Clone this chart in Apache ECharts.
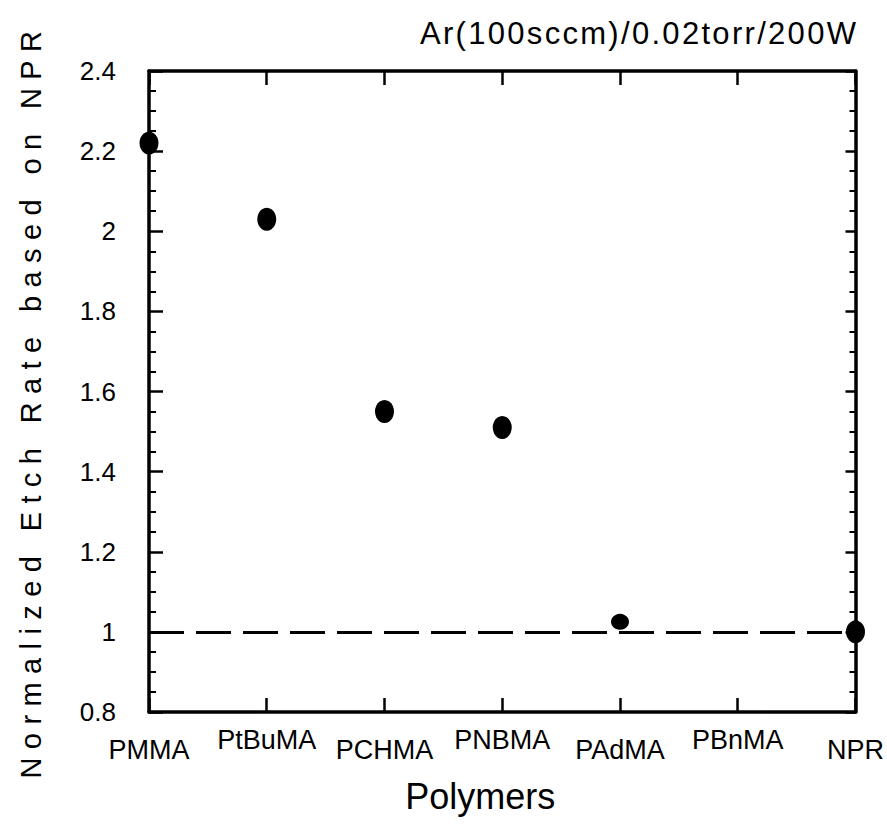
<!DOCTYPE html>
<html><head><meta charset="utf-8">
<script src="https://cdn.jsdelivr.net/npm/echarts@6/dist/echarts.min.js"></script>
<style>
html,body{margin:0;padding:0;background:#fff}
#c{width:887px;height:824px}
svg text[style*="29px"]{letter-spacing:8.4px}
svg text[style*="31px"]{letter-spacing:2.3px}
</style>
</head><body><div id="c"></div>
<script>
const categories = ['PMMA','PtBuMA','PCHMA','PNBMA','PAdMA','PBnMA','NPR'];
const etchRate = [2.22, 2.03, 1.55, 1.51, 1.025, null, 1.0];
const yTicks = ['0.8','1','1.2','1.4','1.6','1.8','2','2.2','2.4'];
const referenceLevel = 1.0;
const titleText = 'Ar(100sccm)/0.02torr/200W';
const yName = 'Normalized Etch Rate based on NPR';
const xName = 'Polymers';

const FONT = "'Liberation Sans', Arial, Helvetica, sans-serif";
const chart = echarts.init(document.getElementById('c'), null, {renderer: 'svg'});
const axisLine = {show: true, onZero: false, lineStyle: {color: '#000', width: 3.5}};
chart.setOption({
  animation: false,
  backgroundColor: '#fff',
  title: {
    text: titleText, left: 420, top: 18, padding: 0,
    textStyle: {fontFamily: FONT, fontSize: 31, fontWeight: 'normal', color: '#000'}
  },
  grid: {left: 149, right: 29, top: 71, bottom: 112, containLabel: false},
  xAxis: [{
    type: 'category', data: categories, boundaryGap: false, position: 'bottom',
    axisLine: axisLine,
    axisTick: {show: true, inside: true, length: 14, alignWithLabel: true, lineStyle: {color: '#000', width: 2.5}},
    axisLabel: {
      interval: 0, margin: 14, color: '#000', fontFamily: FONT, fontSize: 27,
      formatter: (v, i) => (i % 2 ? '{hi|' + v + '}' : '{lo|' + v + '}'),
      rich: {
        hi: {fontFamily: FONT, fontSize: 27, color: '#000'},
        lo: {fontFamily: FONT, fontSize: 27, color: '#000', padding: [10, 0, 0, 0]}
      }
    },
    splitLine: {show: false},
    name: xName, nameLocation: 'middle', nameGap: 66,
    nameTextStyle: {fontFamily: FONT, fontSize: 36, color: '#000', padding: [0, 44, 0, 0]}
  }, {
    type: 'category', data: categories, boundaryGap: false, position: 'top',
    axisLine: axisLine,
    axisTick: {show: true, inside: true, length: 14, lineStyle: {color: '#000', width: 2.5}},
    axisLabel: {show: false}, splitLine: {show: false}
  }],
  yAxis: [{
    type: 'value', min: 0.8, max: 2.4, interval: 0.2, position: 'left',
    axisLine: axisLine,
    axisTick: {show: true, inside: true, length: 14, lineStyle: {color: '#000', width: 2.5}},
    minorTick: {show: true, splitNumber: 4, length: 7, lineStyle: {color: '#000', width: 2}},
    axisLabel: {
      margin: 33, color: '#000', fontFamily: FONT, fontSize: 26, padding: [12, 0, 0, 0],
      formatter: v => yTicks[Math.round((v - 0.8) / 0.2)]
    },
    splitLine: {show: false},
    name: yName, nameLocation: 'middle', nameGap: 104,
    nameTextStyle: {fontFamily: FONT, fontSize: 29, color: '#000', padding: [0, 18, 0, 0]}
  }, {
    type: 'value', min: 0.8, max: 2.4, interval: 0.2, position: 'right',
    axisLine: axisLine,
    axisTick: {show: true, inside: true, length: 10, lineStyle: {color: '#000', width: 2.5}},
    minorTick: {show: true, splitNumber: 4, length: 6, lineStyle: {color: '#000', width: 2}},
    axisLabel: {show: false}, splitLine: {show: false}
  }],
  series: [{
    type: 'scatter', xAxisIndex: 0, yAxisIndex: 0, clip: false,
    data: etchRate,
    symbol: 'circle',
    symbolSize: (v, p) => (p.dataIndex === 4 ? [18, 16] : [19, 23]),
    itemStyle: {color: '#000', opacity: 1},
    markLine: {
      silent: true, symbol: ['none', 'none'],
      label: {show: false},
      lineStyle: {color: '#000', width: 3, type: [35, 12]},
      data: [{yAxis: referenceLevel}]
    }
  }]
});
</script>
</body></html>
